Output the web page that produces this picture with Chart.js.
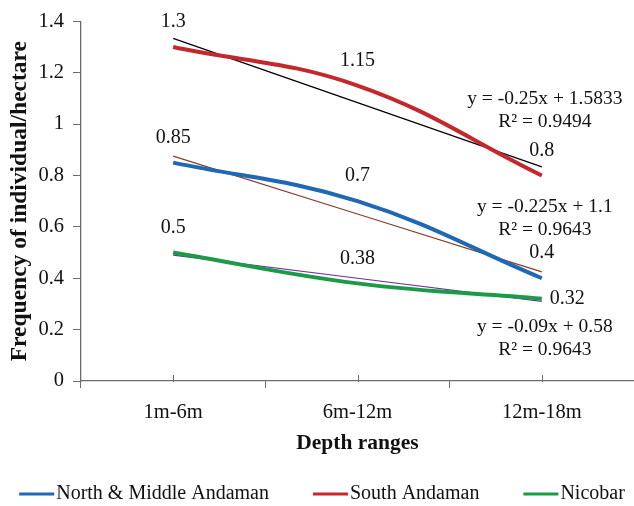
<!DOCTYPE html>
<html>
<head>
<meta charset="utf-8">
<script src="https://cdn.jsdelivr.net/npm/chart.js@4/dist/chart.umd.min.js"></script>
<style>
  html, body { margin: 0; padding: 0; background: #fff; }
  #wrap { width: 634px; height: 506px; position: relative; }
</style>
</head>
<body>
<div id="wrap"><canvas id="chart"></canvas></div>
<script>
// data
const depthRanges = ["1m-6m", "6m-12m", "12m-18m"];
const northMiddleAndaman = [0.85, 0.7, 0.4];
const southAndaman = [1.3, 1.15, 0.8];
const nicobar = [0.5, 0.38, 0.32];

// linear trendlines (Excel) evaluated at the three categories
const trendNorthMiddle = [0.875, 0.65, 0.425];
const trendSouth = [1.3333, 1.0833, 0.8333];
const trendNicobar = [0.49, 0.40, 0.31];

const equationsSouth = ["y = -0.25x + 1.5833", "R\u00B2 = 0.9494"];
const equationsNorthMiddle = ["y = -0.225x + 1.1", "R\u00B2 = 0.9643"];
const equationsNicobar = ["y = -0.09x + 0.58", "R\u00B2 = 0.9643"];

const yTicks = [0, 0.2, 0.4, 0.6, 0.8, 1, 1.2, 1.4];

const FONT = "'Liberation Serif', 'Times New Roman', serif";
const INK = "#111";
const AXIS = "#6b6b6b";

const seriesLine = (label, data, color, side) => ({
  label, data, borderColor: color, backgroundColor: color,
  borderWidth: 4, pointRadius: 0, tension: 0.4, labelSide: side, isSeries: true
});
const trendLine = (data, color) => ({
  label: "trend", data, borderColor: color, borderWidth: 1.2,
  pointRadius: 0, tension: 0, isSeries: false
});

// value labels next to each point of the main series
const valueLabels = {
  id: "valueLabels",
  afterDatasetsDraw(chart) {
    const ctx = chart.ctx;
    ctx.save();
    ctx.font = "20px " + FONT;
    ctx.fillStyle = INK;
    ctx.textBaseline = "middle";
    chart.data.datasets.forEach((ds, i) => {
      if (!ds.isSeries) return;
      const meta = chart.getDatasetMeta(i);
      meta.data.forEach((pt, j) => {
        const txt = String(ds.data[j]);
        if (ds.labelSide === "right" && j === ds.data.length - 1) {
          ctx.textAlign = "left";
          ctx.fillText(txt, pt.x + 8, pt.y);
        } else {
          ctx.textAlign = "center";
          ctx.fillText(txt, pt.x, pt.y - 25);
        }
      });
    });
    ctx.restore();
  }
};

// trendline equations, anchored on the last category
const equationText = {
  id: "equationText",
  afterDatasetsDraw(chart, args, opts) {
    const ctx = chart.ctx;
    const x = chart.scales.x.getPixelForValue(depthRanges.length - 1) + 3;
    ctx.save();
    ctx.font = "19.5px " + FONT;
    ctx.fillStyle = INK;
    ctx.textAlign = "center";
    ctx.textBaseline = "middle";
    opts.items.forEach(item => {
      const y = chart.scales.y.getPixelForValue(item.at);
      item.lines.forEach((ln, k) => ctx.fillText(ln, x, y + k * 23));
    });
    ctx.restore();
  }
};

// short tick marks at category centres (Excel draws them across the axis)
const centreTicks = {
  id: "centreTicks",
  afterDraw(chart) {
    const ctx = chart.ctx, xs = chart.scales.x, y0 = chart.chartArea.bottom;
    ctx.save();
    ctx.strokeStyle = AXIS;
    ctx.lineWidth = 1;
    depthRanges.forEach((_, i) => {
      const x = Math.round(xs.getPixelForValue(i)) + 0.5;
      ctx.beginPath();
      ctx.moveTo(x, y0 - 6);
      ctx.lineTo(x, y0 + 1);
      ctx.stroke();
    });
    ctx.restore();
  }
};

// Excel-like legend: short line, tiny gap, name
const lineLegend = {
  id: "lineLegend",
  afterDraw(chart, args, opts) {
    const ctx = chart.ctx;
    const items = chart.data.datasets.filter(ds => ds.isSeries);
    ctx.save();
    ctx.font = "20px " + FONT;
    ctx.textBaseline = "middle";
    ctx.textAlign = "left";
    const widths = items.map(ds => opts.lineLen + opts.gap + ctx.measureText(ds.label).width);
    const total = widths.reduce((a, b) => a + b, 0) + opts.spacing * (items.length - 1);
    let x = opts.centerX - total / 2;
    items.forEach((ds, i) => {
      ctx.fillStyle = ds.borderColor;
      ctx.fillRect(x, opts.y - 1.5, opts.lineLen, 3);
      ctx.fillStyle = INK;
      ctx.fillText(ds.label, x + opts.lineLen + opts.gap, opts.y);
      x += widths[i] + opts.spacing;
    });
    ctx.restore();
  }
};

new Chart(document.getElementById("chart"), {
  type: "line",
  data: {
    labels: depthRanges,
    datasets: [
      seriesLine("North & Middle Andaman", northMiddleAndaman, "#1f68b3", "top"),
      seriesLine("South Andaman", southAndaman, "#c4282c", "top"),
      seriesLine("Nicobar", nicobar, "#1b9b48", "right"),
      trendLine(trendNorthMiddle, "#8a3b2b"),
      trendLine(trendSouth, "#000000"),
      trendLine(trendNicobar, "#7030a0")
    ]
  },
  options: {
    responsive: true,
    maintainAspectRatio: false,
    animation: false,
    layout: { padding: { top: 6, right: 0, left: 0, bottom: 0 } },
    scales: {
      x: {
        offset: true,
        afterFit: axis => { axis.height = 125; },
        border: { color: AXIS, width: 1.3 },
        grid: { offset: true, drawOnChartArea: false, tickLength: 7, color: AXIS },
        ticks: { color: INK, font: { family: FONT, size: 20.5 }, padding: 12, maxRotation: 0 },
        title: {
          display: true, text: "Depth ranges", color: INK,
          font: { family: FONT, size: 21.5, weight: "bold" },
          padding: { top: 0, bottom: 50 }
        }
      },
      y: {
        min: 0, max: 1.4,
        afterBuildTicks: axis => { axis.ticks = yTicks.map(v => ({ value: v })); },
        afterFit: axis => { axis.width = 81; },
        border: { color: AXIS, width: 1.3 },
        grid: { drawOnChartArea: false, tickLength: 8, color: AXIS },
        ticks: { color: INK, font: { family: FONT, size: 20.5 }, padding: 9, callback: v => String(v) },
        title: {
          display: true, text: "Frequency of individual/hectare", color: INK,
          font: { family: FONT, size: 23.5, weight: "bold" },
          padding: { top: 6, bottom: 0 }
        }
      }
    },
    plugins: {
      legend: { display: false },
      tooltip: { enabled: false },
      equationText: {
        items: [
          { at: 1.10, lines: equationsSouth },
          { at: 0.676, lines: equationsNorthMiddle },
          { at: 0.212, lines: equationsNicobar }
        ]
      },
      lineLegend: { centerX: 322, y: 494, lineLen: 35, gap: 2, spacing: 44 }
    }
  },
  plugins: [valueLabels, equationText, centreTicks, lineLegend]
});
</script>
</body>
</html>
